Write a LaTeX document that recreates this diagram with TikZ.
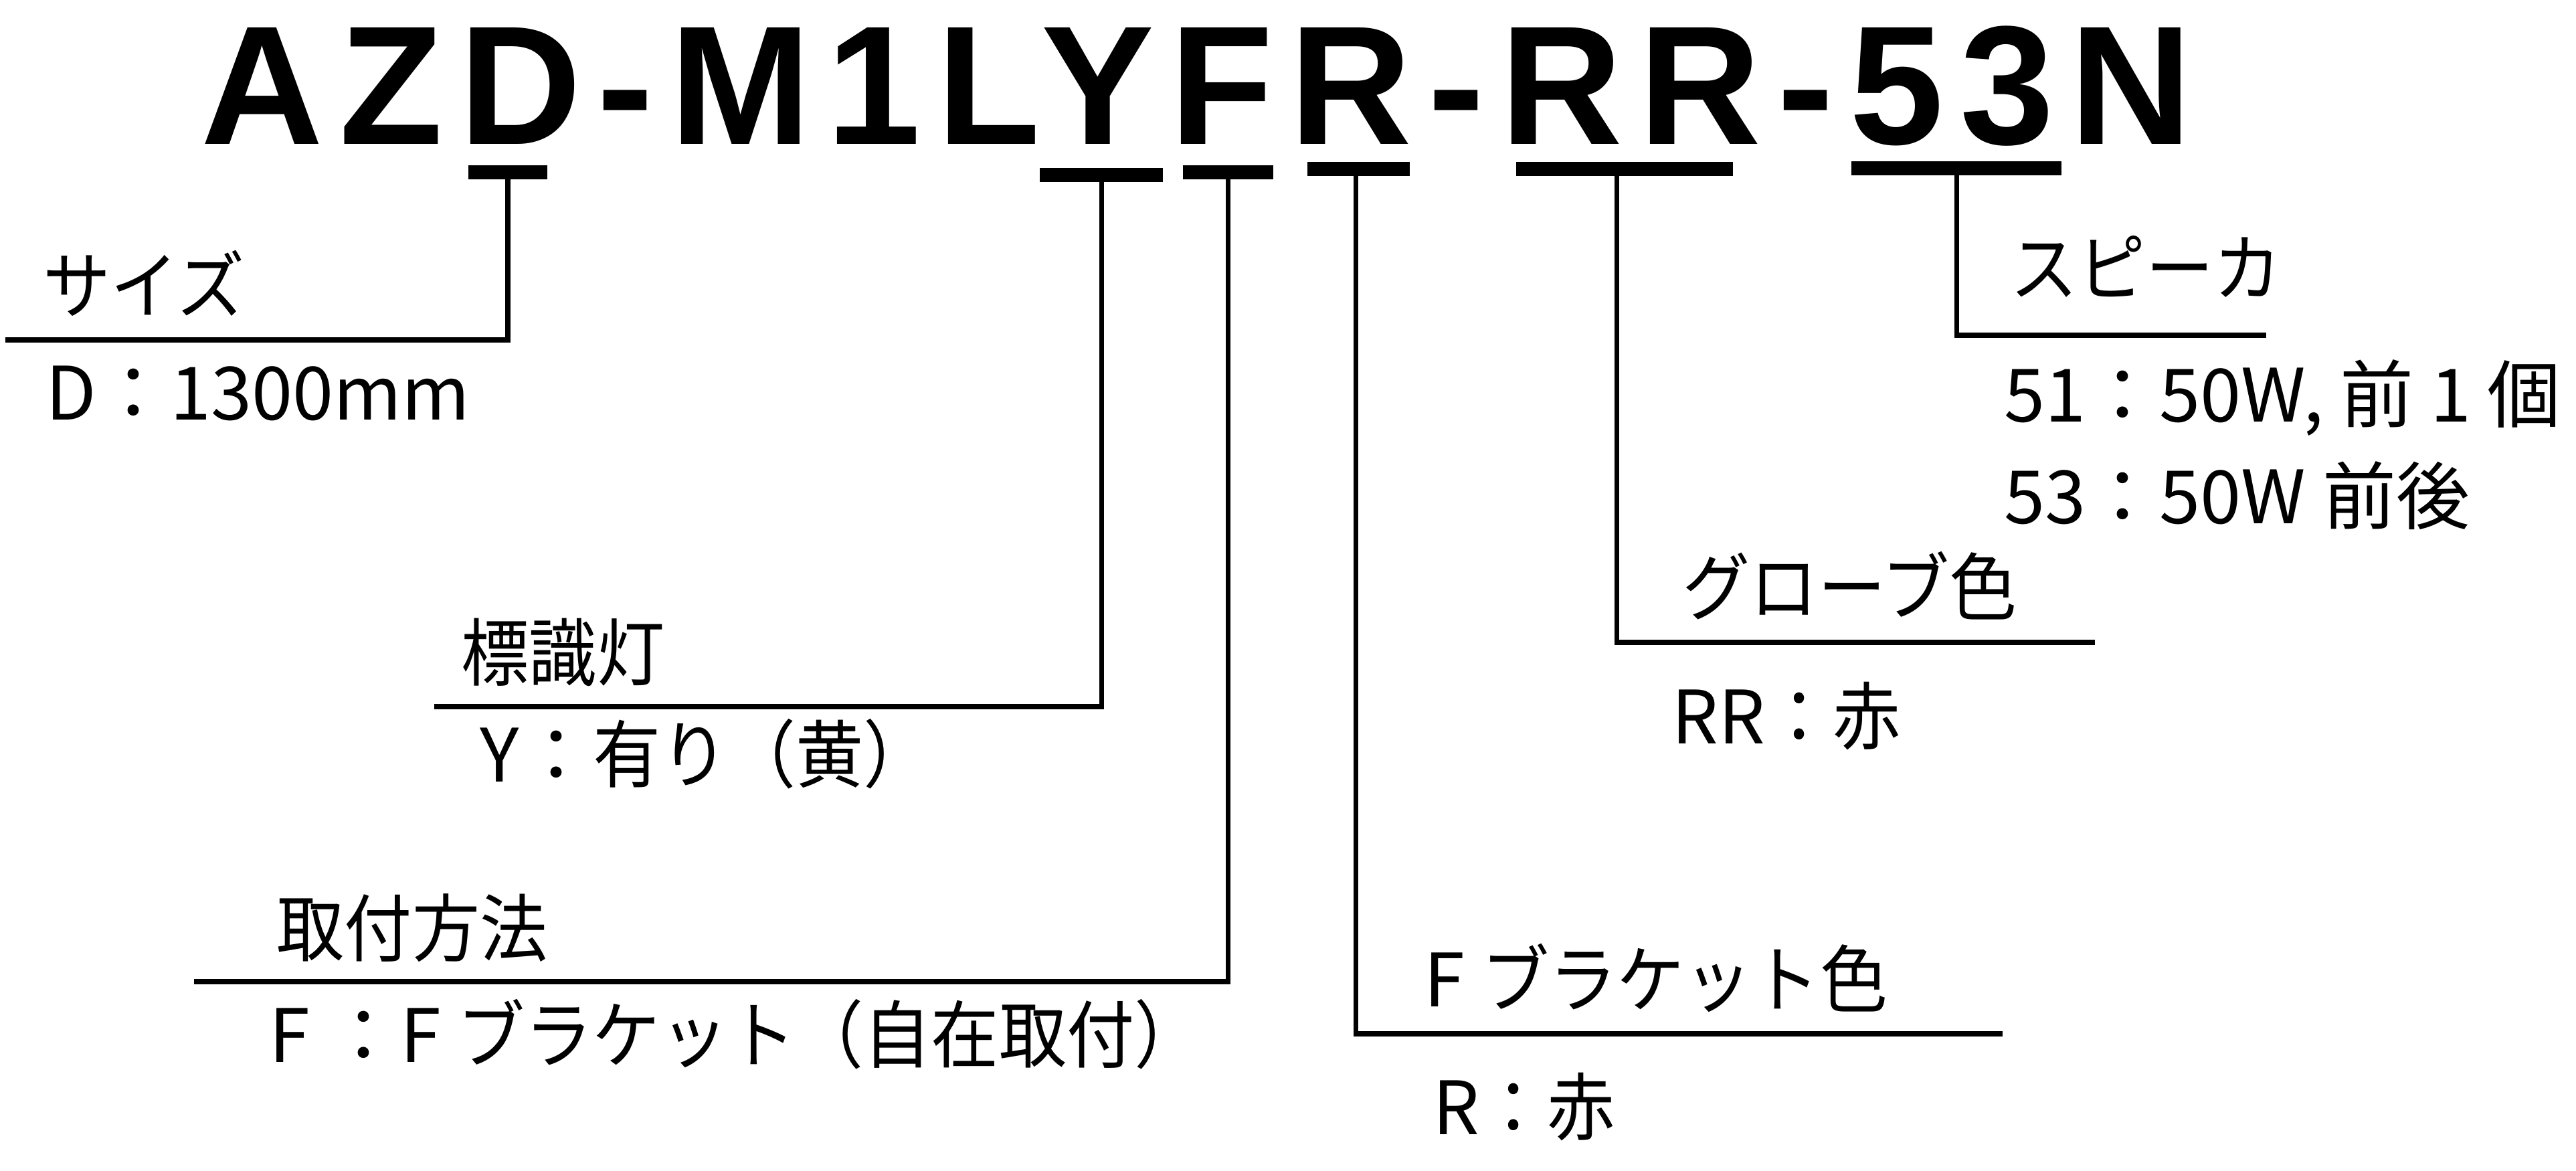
\documentclass[tikz,border=0pt]{standalone}
\usepackage{fontspec}
\newfontfamily\jpfont{Noto Sans CJK JP}
\newfontfamily\jpn[FakeStretch=0.92]{Noto Sans CJK JP}
\newfontfamily\titlefont[LetterSpace=9.5]{Liberation Sans}
\begin{document}
\begin{tikzpicture}[x=1cm,y=-1cm,
  tagbar/.style={fill=black, inner sep=0pt, minimum height=0.21cm},
  lbl/.style={anchor=base west, inner sep=0pt, font=\jpfont\fontsize{31.3}{37}\selectfont},
  conn/.style={line width=2pt, line cap=rect}]
\fill[white] (0,0) rectangle (38.5,17.5);
\useasboundingbox (0,0) rectangle (38.5,17.5);
% title
\node[anchor=base west, inner sep=0pt, font=\titlefont\bfseries\fontsize{72}{80}\selectfont] (title) at (3.0,2.16) {AZD-M1LYFR-RR-53N};
% bars
\node[tagbar, minimum width=1.18cm] (barD) at (7.59,2.58) {};
\node[tagbar, minimum width=1.84cm] (barY) at (16.46,2.62) {};
\node[tagbar, minimum width=1.35cm] (barF) at (18.35,2.58) {};
\node[tagbar, minimum width=1.53cm] (barR) at (20.30,2.53) {};
\node[tagbar, minimum width=3.24cm] (barRR) at (24.28,2.53) {};
\node[tagbar, minimum width=3.14cm] (bar53) at (29.24,2.52) {};
% connector ends
\coordinate (dEnd) at (0.12,5.08);
\coordinate (yEnd) at (6.53,10.56);
\coordinate (fEnd) at (2.94,14.67);
\coordinate (rEnd) at (29.89,15.45);
\coordinate (rrEnd) at (31.27,9.60);
\coordinate (sEnd) at (33.83,5.01);
\draw[conn] (barD.south) |- (dEnd);
\draw[conn] (barY.south) |- (yEnd);
\draw[conn] (barF.south) |- (fEnd);
\draw[conn] ([xshift=-0.04cm]barR.south) |- (rEnd);
\draw[conn] ([xshift=-0.12cm]barRR.south) |- (rrEnd);
\draw[conn] (bar53.south) |- (sEnd);
% labels
\node[lbl] (sizeT) at (0.64,4.68) {\jpn サイズ};
\node[lbl] (sizeV) at (0.68,6.28) {D：1300mm};
\node[lbl] (lampT) at (6.89,10.16) {\jpn 標識灯};
\node[lbl] (lampV) at (7.17,11.68) {Y：{\jpn 有り（黄）}};
\node[lbl] (mountT) at (4.13,14.28) {\jpn 取付方法};
\node[lbl] (mountV) at (4.02,15.87) {F ：F {\jpn ブラケット（自在取付）}};
\node[lbl] (bcolT) at (21.28,15.04) {F {\jpn ブラケット色}};
\node[lbl] (bcolV) at (21.41,16.95) {R{\jpn ：赤}};
\node[lbl] (gcolT) at (25.14,9.19) {\jpn グローブ色};
\node[lbl] (gcolV) at (24.98,11.12) {RR{\jpn ：赤}};
\node[lbl] (spkT) at (30.04,4.42) {\jpn スピーカ};
\node[lbl] (spkV1) at (29.95,6.31) {51：50W, 前 1 個};
\node[lbl] (spkV2) at (29.95,7.83) {53：50W 前後};
\end{tikzpicture}
\end{document}
